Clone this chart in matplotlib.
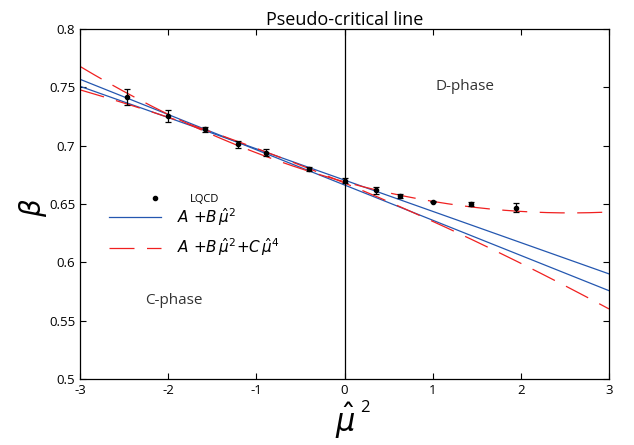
import numpy as np
import matplotlib
matplotlib.use("Agg")
import matplotlib.pyplot as plt

# Data
mu2 = [-2.47, -2.0, -1.58, -1.21, -0.89, -0.40, 0.0, 0.36, 0.63, 1.0, 1.44, 1.95]
beta = [0.742, 0.7254, 0.714, 0.7014, 0.694, 0.680, 0.670, 0.662, 0.657, 0.652, 0.650, 0.647]
beta_err = [0.007, 0.005, 0.002, 0.003, 0.003, 0.0015, 0.002, 0.003, 0.002, 0.0005, 0.002, 0.004]

# fit curves: coefficients (A, B, C)
lin_fit1 = (0.6705, -0.0268)
lin_fit2 = (0.6663, -0.0302)
quad_fit1 = (0.669, -0.0208, 0.00406)
quad_fit2 = (0.668, -0.0313, -0.00156)

xticks = [-3, -2, -1, 0, 1, 2, 3]
yticks = [0.5, 0.55, 0.6, 0.65, 0.7, 0.75, 0.8]
yticklabels = ["0.5", "0.55", "0.6", "0.65", "0.7", "0.75", "0.8"]

plt.rcParams['font.family'] = ['Open Sans', 'DejaVu Sans']
plt.rcParams['mathtext.fontset'] = 'dejavusans'
plt.rcParams['axes.unicode_minus'] = False

fig = plt.figure(figsize=(6.34, 4.45), dpi=100)
ax = fig.add_axes([80/634, 1-379/445, 529/634, 350/445])

x = np.linspace(-3, 3, 300)
blue = '#2457b0'
red = '#f02020'
l1, = ax.plot(x, lin_fit1[0] + lin_fit1[1]*x, color=blue, lw=0.9)
ax.plot(x, lin_fit2[0] + lin_fit2[1]*x, color=blue, lw=0.9)
l2, = ax.plot(x, quad_fit1[0] + quad_fit1[1]*x + quad_fit1[2]*x**2, color=red, lw=0.9, dashes=(20, 10))
ax.plot(x, quad_fit2[0] + quad_fit2[1]*x + quad_fit2[2]*x**2, color=red, lw=0.9, dashes=(20, 10))

ax.axvline(0, color='black', lw=0.9)
ax.errorbar(mu2, beta, yerr=beta_err, fmt='none', ecolor='black',
            elinewidth=0.9, capsize=2.5, capthick=0.9, zorder=5)
pts, = ax.plot(mu2, beta, 'o', color='black', ms=3, zorder=6)

ax.set_xlim(-3, 3)
ax.set_ylim(0.5, 0.8)
ax.set_xticks(xticks)
ax.set_yticks(yticks)
ax.set_yticklabels(yticklabels)
ax.tick_params(direction='in', top=True, right=True, labelsize=9.5, length=4, width=0.8)
for s in ax.spines.values():
    s.set_linewidth(0.9)

ax.set_title('Pseudo-critical line', fontsize=13, pad=3)
ax.text(-2.26, 0.564, 'C-phase', fontsize=11, color='#333333')
ax.text(1.03, 0.748, 'D-phase', fontsize=11, color='#333333')

fig.text(345/634, 1-421/445, r'$\hat{\mu}$', fontsize=22, ha='center', va='center')
fig.text(360/634, 1-408/445, '2', fontsize=12, ha='left', va='center')
fig.text(33/634, 1-208/445, r'$\beta$', fontsize=20, rotation=90, ha='center', va='center')

leg1 = ax.legend([pts], ['LQCD'], loc='center left',
                 bbox_to_anchor=(149.5/634, 1-199/445), bbox_transform=fig.transFigure,
                 frameon=False, fontsize=8, handlelength=1.0, handletextpad=2.6,
                 borderpad=0, borderaxespad=0)
ax.add_artist(leg1)

leg2 = ax.legend([l1, l2],
                 [r'$A\ {+}B\,\hat{\mu}^2$', r'$A\ {+}B\,\hat{\mu}^2{+}C\,\hat{\mu}^4$'],
                 loc='center left', bbox_to_anchor=(109/634, 1-232/445),
                 bbox_transform=fig.transFigure, frameon=False,
                 fontsize=11, handlelength=3.4, handletextpad=1.05, labelspacing=0.55,
                 borderpad=0, borderaxespad=0)

fig.savefig('out.png', dpi=100)
